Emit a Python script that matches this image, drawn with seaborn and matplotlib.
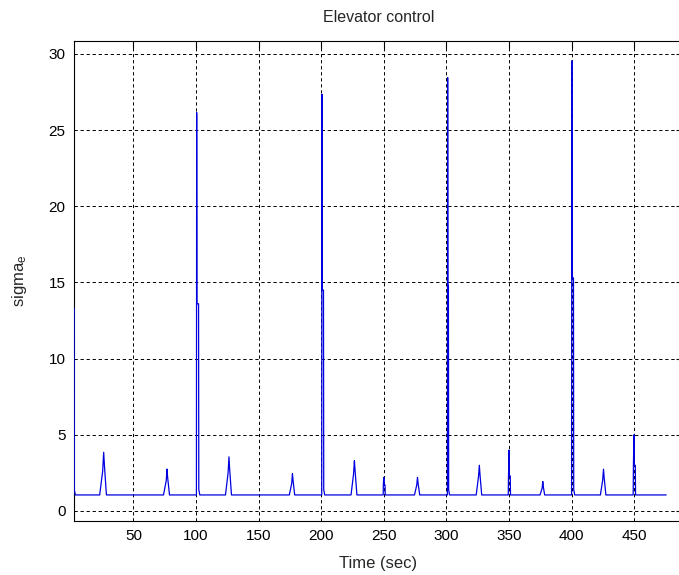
import matplotlib
matplotlib.use("Agg")
import matplotlib.pyplot as plt
import seaborn as sns
import pandas as pd

# Elevator control error signal: sample times (s) and sigma_e values
time_sec = [
    2.6, 2.7, 3.6,
    23.0, 25.4, 26.2, 26.8, 28.4,
    74.0, 76.2, 76.8, 77.3, 78.8,
    100.3, 100.5, 100.7, 102.0, 102.2, 103.0,
    123.5, 125.6, 126.3, 126.8, 128.3,
    174.5, 176.4, 177.0, 177.5, 178.8,
    200.4, 200.6, 200.8, 201.8, 202.0, 202.8,
    223.8, 225.8, 226.5, 227.0, 228.5,
    249.5, 249.6, 250.0, 250.4, 251.0, 251.1,
    274.5, 276.3, 276.9, 277.4, 278.7,
    300.8, 301.0, 301.2, 301.6, 301.8, 302.5,
    323.8, 325.7, 326.3, 326.8, 328.2,
    349.4, 349.6, 350.0, 350.3, 351.0, 351.2,
    374.8, 376.5, 377.0, 377.4, 378.5,
    400.0, 400.2, 400.4, 401.5, 401.7, 402.5,
    423.0, 424.8, 425.5, 426.0, 427.4,
    449.2, 449.4, 449.8, 450.1, 450.9, 451.1,
    475.6,
]
sigma_e = [
    13.3, 1.4, 1.05,
    1.05, 2.6, 3.85, 3.0, 1.05,
    1.05, 2.0, 2.75, 2.2, 1.05,
    1.05, 26.15, 13.6, 13.6, 1.4, 1.05,
    1.05, 2.5, 3.55, 2.8, 1.05,
    1.05, 1.8, 2.45, 2.0, 1.05,
    1.05, 27.35, 14.5, 14.5, 1.4, 1.05,
    1.05, 2.4, 3.3, 2.7, 1.05,
    1.05, 1.7, 2.2, 1.7, 1.7, 1.05,
    1.05, 1.7, 2.2, 1.8, 1.05,
    1.05, 28.45, 14.8, 14.8, 1.4, 1.05,
    1.05, 2.3, 3.0, 2.4, 1.05,
    1.05, 2.3, 4.0, 2.3, 2.3, 1.05,
    1.05, 1.5, 1.93, 1.6, 1.05,
    1.05, 29.55, 15.3, 15.3, 1.4, 1.05,
    1.05, 2.0, 2.74, 2.2, 1.05,
    1.05, 3.0, 5.0, 3.0, 3.0, 1.05,
    1.05,
]
x_ticks = [50, 100, 150, 200, 250, 300, 350, 400, 450]
y_ticks = [0, 5, 10, 15, 20, 25, 30]

sns.set_style("white")
plt.rcParams["font.family"] = ["Liberation Sans", "DejaVu Sans"]
plt.rcParams["mathtext.default"] = "regular"

df = pd.DataFrame({"t": time_sec, "s": sigma_e})

W, H = 679, 575
fig = plt.figure(figsize=(W / 100, H / 100), dpi=100)
left, right, top, bottom = 74, 683, 41, 521
ax = fig.add_axes([left / W, 1 - bottom / H, (right - left) / W, (bottom - top) / H])

sns.lineplot(data=df, x="t", y="s", ax=ax, color="#0000e0", lw=0.9,
             estimator=None, sort=False, zorder=3)

ax.set_xlim(2.5, 489)
ax.set_ylim(-0.66, 30.85)
ax.set_xticks(x_ticks)
ax.set_yticks(y_ticks)
ax.tick_params(direction="in", top=True, right=True, length=5, width=0.8,
               labelsize=11, colors="black", pad=6)
for sp in ax.spines.values():
    sp.set_color("black")
    sp.set_linewidth(0.8)
    sp.set_zorder(2.5)

ax.grid(True, color="black", linestyle=(0, (3.4, 2.8)), lw=0.7)
ax.set_axisbelow(True)

ax.set_title("Elevator control", fontsize=11.5, pad=14)
ax.set_xlabel("Time (sec)", fontsize=12, labelpad=9)
ax.set_ylabel("sigma$_e$", fontsize=12, labelpad=14)

fig.savefig("out.png", dpi=100, facecolor="white")
